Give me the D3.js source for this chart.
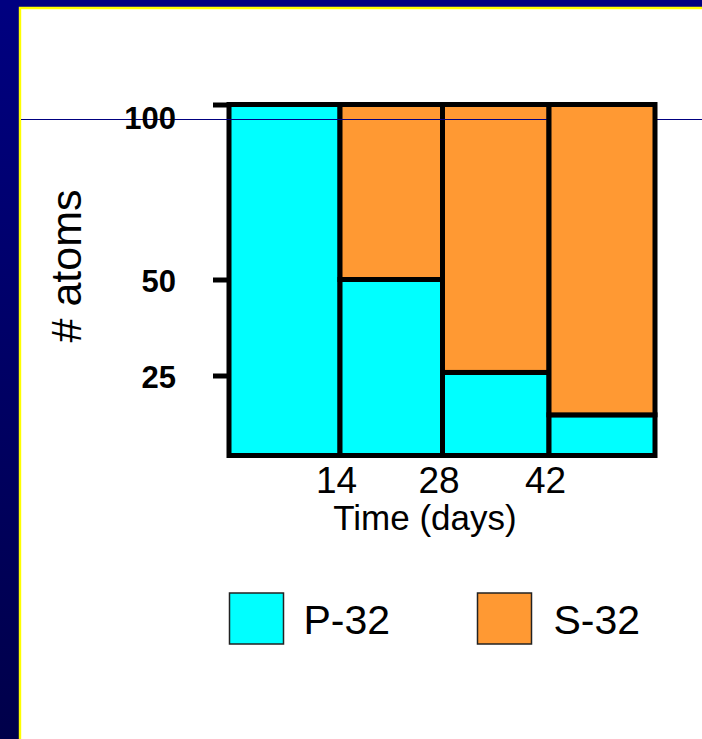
<!DOCTYPE html>
<html>
<head>
<meta charset="utf-8">
<script src="https://cdn.jsdelivr.net/npm/d3@7"></script>
<style>
  body { margin: 0; background: #fff; }
  svg { display: block; font-family: 'Liberation Sans', Arial, sans-serif; }
</style>
</head>
<body>
<svg id="chart" width="702" height="739"></svg>
<script>
// Decay of P-32 into S-32, one column per half-life (14 days).
const periodStarts = [0, 14, 28, 42];
const periodEnd = 56;
const p32 = [100, 50, 25.8, 12.7];
const s32 = [0, 50, 74.2, 87.3];
const dayTicks = [14, 28, 42];
const atomTicks = [100, 50, 25];
const seriesNames = ['P-32', 'S-32'];
const seriesColors = ['#00ffff', '#ff9933'];

const chart = d3.select('#chart');
const width = +chart.attr('width');
const height = +chart.attr('height');
const navy = '#000080';

// slide frame
const grad = chart.append('defs').append('linearGradient')
  .attr('id', 'side').attr('x1', 0).attr('y1', 0).attr('x2', 0).attr('y2', 1);
grad.append('stop').attr('offset', '0%').attr('stop-color', navy);
grad.append('stop').attr('offset', '100%').attr('stop-color', '#00004a');

chart.append('rect').attr('width', width).attr('height', height).attr('fill', '#fff');
chart.append('rect').attr('width', 19).attr('height', height).attr('fill', 'url(#side)');
chart.append('rect').attr('width', width).attr('height', 7).attr('fill', navy);
chart.append('path')
  .attr('d', `M20,${height}V8H${width}`)
  .attr('fill', 'none')
  .attr('stroke', '#ffff00')
  .attr('stroke-width', 2.4);

// hand-drawn slide, so the axes are not quite evenly spaced
const x = d3.scaleLinear()
  .domain([0, ...dayTicks, periodEnd])
  .range([229, 340, 442.5, 549, 655]);
const y = d3.scaleLinear()
  .domain([0, 25, 50, 100])
  .range([455.5, 375.5, 279.5, 104.5]);
const color = d3.scaleOrdinal().domain(seriesNames).range(seriesColors);

const rows = periodStarts.map((start, i) => ({
  start,
  end: i + 1 < periodStarts.length ? periodStarts[i + 1] : periodEnd,
  'P-32': p32[i],
  'S-32': s32[i]
}));
const stacked = d3.stack().keys(seriesNames)(rows);

const cols = chart.selectAll('g.col')
  .data(rows)
  .join('g')
  .attr('class', 'col');

cols.selectAll('rect')
  .data((d, i) => stacked.map(s => ({ key: s.key, y0: s[i][0], y1: s[i][1], start: d.start, end: d.end })))
  .join('rect')
  .attr('x', d => x(d.start))
  .attr('width', d => x(d.end) - x(d.start))
  .attr('y', d => y(d.y1))
  .attr('height', d => y(d.y0) - y(d.y1))
  .attr('fill', d => color(d.key))
  .attr('stroke', '#000')
  .attr('stroke-width', 5);

// the slide's rule line runs over the first columns but under the last one
chart.insert('line', () => cols.nodes()[cols.size() - 1])
  .attr('x1', 21).attr('x2', width)
  .attr('y1', 119.5).attr('y2', 119.5)
  .attr('stroke', navy)
  .attr('stroke-width', 1.2);

const yAxis = d3.axisLeft(y).tickValues(atomTicks).tickSize(16).tickPadding(37).tickSizeOuter(0);
const gy = chart.append('g')
  .attr('transform', `translate(${x(0)},0)`)
  .call(yAxis)
  .attr('font-size', null)
  .attr('font-family', null);
gy.select('.domain').remove();
gy.selectAll('.tick line').attr('stroke', '#000').attr('stroke-width', 5);
gy.selectAll('.tick text')
  .attr('fill', '#000')
  .attr('font-size', 31)
  .attr('font-weight', 'bold')
  .attr('dy', d => d === 100 ? 24 : 12);

const xAxis = d3.axisBottom(x).tickValues(dayTicks).tickSize(0).tickPadding(0);
const gx = chart.append('g')
  .attr('transform', `translate(0,${y(0)})`)
  .call(xAxis)
  .attr('font-size', null)
  .attr('font-family', null);
gx.select('.domain').remove();
gx.selectAll('.tick line').remove();
gx.selectAll('.tick text')
  .attr('fill', '#000')
  .attr('font-size', 37)
  .attr('dx', -4)
  .attr('dy', 37);

chart.append('text')
  .attr('transform', 'translate(81,266) rotate(-90)')
  .attr('text-anchor', 'middle')
  .attr('font-size', 43)
  .text('# atoms');

chart.append('text')
  .attr('x', 425)
  .attr('y', 530)
  .attr('text-anchor', 'middle')
  .attr('font-size', 35)
  .text('Time (days)');

// legend
const legend = chart.append('g')
  .selectAll('g')
  .data(seriesNames)
  .join('g')
  .attr('transform', (d, i) => `translate(${229.5 + i * 248},593)`);
legend.append('rect')
  .attr('width', 54)
  .attr('height', 51)
  .attr('fill', d => color(d))
  .attr('stroke', '#222')
  .attr('stroke-width', 1.5);
legend.append('text')
  .attr('x', (d, i) => 74 + i * 2)
  .attr('y', 41)
  .attr('font-size', 41)
  .text(d => d);
</script>
</body>
</html>
